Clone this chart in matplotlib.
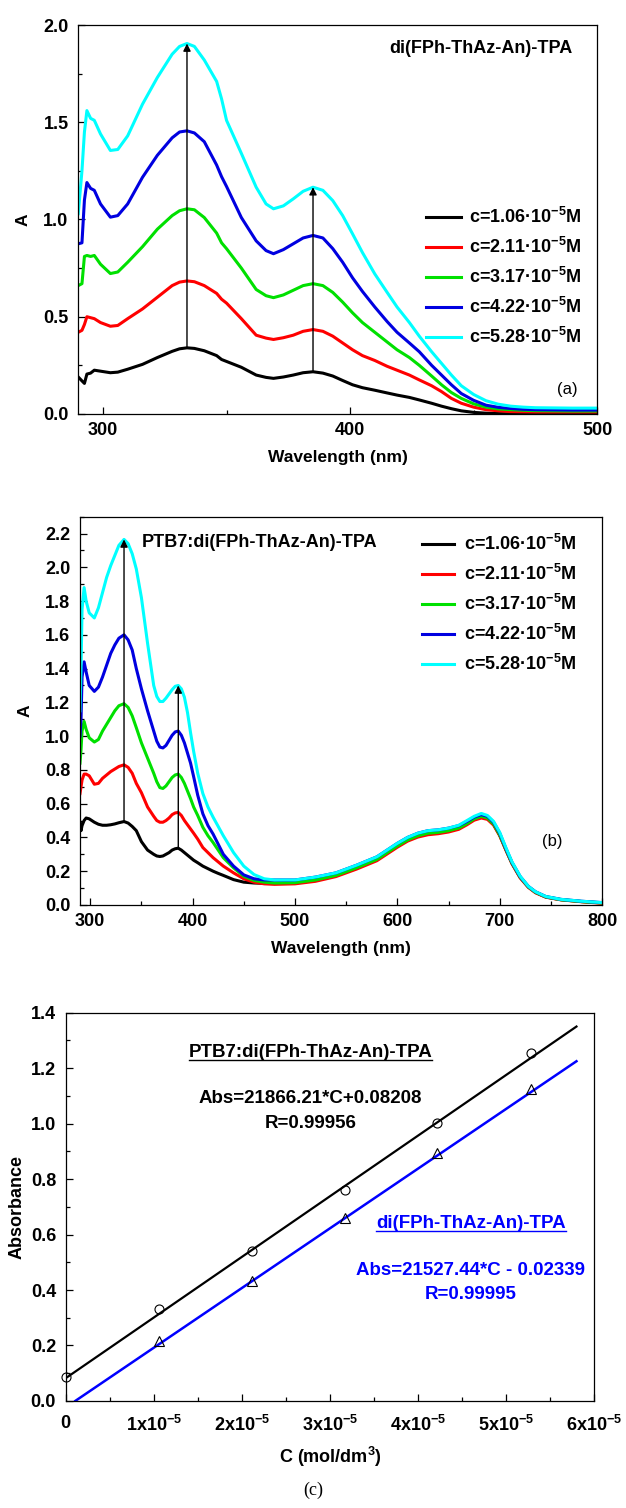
import matplotlib
matplotlib.use("Agg")
import matplotlib.pyplot as plt
from matplotlib.ticker import MultipleLocator, FixedLocator, FixedFormatter, FormatStrFormatter
from matplotlib.lines import Line2D
import numpy as np

# ---------------------------------------------------------------- data
conc_labels = ["1.06", "2.11", "3.17", "4.22", "5.28"]
colors = ["#000000", "#FF0000", "#00E000", "#0000E0", "#00FFFF"]

# (a) di(FPh-ThAz-An)-TPA in solution
wl_a = [290, 291.5, 292.5, 293.5, 295, 296.5, 299, 303, 306, 310,
        316, 322, 328, 331, 334, 337, 341, 346, 348, 350,
        356, 362, 366, 369, 373, 377, 381, 385, 389, 393,
        397, 401, 405, 410, 415, 419, 424, 428, 433, 437,
        441, 445, 450, 455, 460, 465, 470, 475, 490, 500]
a_c1 = [0.19, 0.17, 0.157, 0.205, 0.21, 0.225, 0.22, 0.212, 0.215, 0.23,
        0.255, 0.29, 0.322, 0.335, 0.34, 0.337, 0.325, 0.30, 0.28, 0.27,
        0.24, 0.20, 0.188, 0.183, 0.19, 0.20, 0.212, 0.217, 0.21, 0.195,
        0.172, 0.15, 0.135, 0.122, 0.108, 0.097, 0.085, 0.072, 0.055, 0.04,
        0.027, 0.016, 0.008, 0.004, 0.002, 0.001, 0.0, 0.0, 0.0, 0.0]
a_c2 = [0.42, 0.43, 0.46, 0.50, 0.495, 0.49, 0.47, 0.451, 0.455, 0.49,
        0.54, 0.60, 0.66, 0.678, 0.684, 0.68, 0.66, 0.62, 0.59, 0.57,
        0.49, 0.405, 0.39, 0.383, 0.392, 0.405, 0.425, 0.434, 0.425, 0.40,
        0.365, 0.33, 0.30, 0.275, 0.245, 0.225, 0.20, 0.175, 0.145, 0.115,
        0.08, 0.055, 0.035, 0.022, 0.016, 0.012, 0.011, 0.01, 0.01, 0.01]
a_c3 = [0.66, 0.67, 0.81, 0.815, 0.81, 0.815, 0.77, 0.722, 0.73, 0.78,
        0.86, 0.95, 1.02, 1.045, 1.055, 1.05, 1.01, 0.93, 0.88, 0.85,
        0.75, 0.64, 0.608, 0.598, 0.612, 0.636, 0.66, 0.67, 0.66, 0.625,
        0.575, 0.52, 0.47, 0.42, 0.37, 0.33, 0.29, 0.25, 0.195, 0.15,
        0.11, 0.08, 0.052, 0.035, 0.026, 0.022, 0.019, 0.017, 0.015, 0.015]
a_c4 = [0.875, 0.88, 1.10, 1.19, 1.16, 1.15, 1.08, 1.012, 1.02, 1.08,
        1.217, 1.33, 1.42, 1.45, 1.456, 1.445, 1.40, 1.28, 1.22, 1.17,
        1.01, 0.89, 0.84, 0.824, 0.845, 0.875, 0.905, 0.918, 0.905, 0.85,
        0.78, 0.70, 0.63, 0.55, 0.475, 0.42, 0.365, 0.32, 0.25, 0.20,
        0.15, 0.105, 0.07, 0.045, 0.034, 0.028, 0.024, 0.022, 0.02, 0.02]
a_c5 = [1.03, 1.25, 1.45, 1.56, 1.52, 1.51, 1.44, 1.355, 1.36, 1.43,
        1.593, 1.73, 1.85, 1.89, 1.905, 1.89, 1.82, 1.71, 1.62, 1.51,
        1.34, 1.166, 1.08, 1.055, 1.07, 1.106, 1.145, 1.166, 1.15, 1.097,
        1.02, 0.926, 0.83, 0.72, 0.625, 0.55, 0.47, 0.40, 0.32, 0.26,
        0.2, 0.145, 0.1, 0.068, 0.05, 0.04, 0.035, 0.032, 0.03, 0.03]

# (b) PTB7:di(FPh-ThAz-An)-TPA blend
wl_b = [290, 291, 292, 294, 296, 299, 304, 308, 312, 316,
        320, 324, 328, 333, 337, 341, 345, 350, 356, 362,
        365, 368, 371, 374, 377, 380, 383, 386, 389, 392,
        395, 398, 401, 405, 410, 415, 420, 425, 430, 440,
        450, 460, 470, 480, 500, 520, 540, 560, 580, 600,
        610, 620, 630, 640, 650, 660, 668, 675, 682, 688,
        694, 700, 706, 712, 720, 728, 735, 745, 760, 780,
        800]
b_c1 = [0.49, 0.44, 0.47, 0.50, 0.515, 0.51, 0.49, 0.478, 0.472, 0.472,
        0.475, 0.48, 0.487, 0.494, 0.485, 0.465, 0.44, 0.375, 0.325, 0.30,
        0.29, 0.287, 0.29, 0.30, 0.31, 0.325, 0.333, 0.336, 0.325, 0.31,
        0.295, 0.28, 0.265, 0.25, 0.23, 0.215, 0.20, 0.187, 0.175, 0.15,
        0.135, 0.13, 0.128, 0.13, 0.135, 0.15, 0.178, 0.222, 0.272, 0.352,
        0.386, 0.41, 0.424, 0.432, 0.442, 0.457, 0.483, 0.508, 0.522, 0.512,
        0.478, 0.413, 0.328, 0.246, 0.163, 0.106, 0.074, 0.047, 0.031, 0.02,
        0.012]
b_c2 = [0.66, 0.70, 0.74, 0.775, 0.775, 0.765, 0.715, 0.72, 0.75, 0.77,
        0.79, 0.805, 0.82, 0.83, 0.815, 0.78, 0.72, 0.665, 0.58, 0.525,
        0.50, 0.49, 0.49, 0.50, 0.515, 0.535, 0.545, 0.548, 0.53, 0.50,
        0.475, 0.45, 0.425, 0.39, 0.34, 0.31, 0.28, 0.255, 0.23, 0.19,
        0.155, 0.135, 0.125, 0.122, 0.125, 0.14, 0.168, 0.212, 0.262, 0.342,
        0.378, 0.402, 0.416, 0.422, 0.432, 0.448, 0.475, 0.502, 0.515, 0.507,
        0.473, 0.41, 0.325, 0.244, 0.16, 0.104, 0.072, 0.046, 0.03, 0.019,
        0.01]
b_c3 = [0.84, 0.92, 1.03, 1.087, 1.04, 0.99, 0.965, 0.98, 1.03, 1.07,
        1.11, 1.15, 1.18, 1.192, 1.17, 1.12, 1.05, 0.96, 0.87, 0.78,
        0.73, 0.695, 0.69, 0.705, 0.73, 0.755, 0.77, 0.775, 0.755, 0.72,
        0.675, 0.63, 0.58, 0.53, 0.46, 0.41, 0.37, 0.325, 0.28, 0.22,
        0.17, 0.145, 0.135, 0.13, 0.132, 0.148, 0.175, 0.22, 0.27, 0.35,
        0.385, 0.41, 0.425, 0.43, 0.44, 0.456, 0.482, 0.51, 0.525, 0.515,
        0.48, 0.415, 0.33, 0.248, 0.165, 0.107, 0.075, 0.048, 0.031, 0.02,
        0.012]
b_c4 = [1.00, 1.10, 1.35, 1.44, 1.38, 1.30, 1.265, 1.29, 1.35, 1.42,
        1.49, 1.54, 1.58, 1.60, 1.57, 1.51, 1.40, 1.28, 1.15, 1.03,
        0.97, 0.935, 0.93, 0.945, 0.975, 1.005, 1.025, 1.03, 1.005, 0.96,
        0.90, 0.84, 0.76, 0.65, 0.54, 0.47, 0.42, 0.36, 0.30, 0.23,
        0.178, 0.155, 0.148, 0.148, 0.148, 0.165, 0.19, 0.235, 0.285, 0.365,
        0.40, 0.425, 0.44, 0.445, 0.455, 0.47, 0.495, 0.52, 0.535, 0.525,
        0.49, 0.425, 0.335, 0.252, 0.168, 0.11, 0.078, 0.05, 0.033, 0.022,
        0.014]
b_c5 = [1.15, 1.40, 1.75, 1.88, 1.80, 1.73, 1.70, 1.76, 1.85, 1.94,
        2.01, 2.07, 2.13, 2.165, 2.14, 2.08, 1.99, 1.82, 1.55, 1.30,
        1.235, 1.205, 1.205, 1.225, 1.25, 1.275, 1.295, 1.30, 1.28, 1.23,
        1.14, 1.02, 0.91, 0.78, 0.66, 0.58, 0.52, 0.465, 0.41, 0.31,
        0.23, 0.18, 0.155, 0.148, 0.148, 0.165, 0.19, 0.235, 0.285, 0.365,
        0.40, 0.425, 0.44, 0.445, 0.455, 0.472, 0.50, 0.525, 0.542, 0.53,
        0.495, 0.43, 0.34, 0.255, 0.17, 0.11, 0.078, 0.05, 0.033, 0.022,
        0.014]

# peak wavelengths marked with arrows (lowest -> highest concentration)
peaks_a = [334, 385]
peaks_b = [333, 386]

# (c) calibration
conc = [0.0, 1.06e-5, 2.11e-5, 3.17e-5, 4.22e-5, 5.28e-5]
abs_blend = [0.088, 0.331, 0.541, 0.759, 1.002, 1.255]
abs_pure = [0.217, 0.433, 0.661, 0.894, 1.125]
fit_blend = (21866.21, 0.08208)
fit_pure = (21527.44, -0.02339)
fit_c_max = 5.8e-5

# ---------------------------------------------------------------- style
plt.rcParams.update({
    "font.family": "Liberation Sans",
    "font.weight": "bold",
    "axes.labelweight": "bold",
    "font.size": 12,
    "mathtext.fontset": "custom",
    "mathtext.rm": "Liberation Sans:bold",
    "mathtext.it": "Liberation Sans:bold:italic",
    "mathtext.bf": "Liberation Sans:bold",
    "axes.linewidth": 0.9,
    "xtick.direction": "in",
    "ytick.direction": "in",
})


def style_ax(ax):
    ax.tick_params(which="major", length=5, width=0.9, labelsize=13, pad=6)
    ax.tick_params(which="minor", length=3, width=0.9)
    ax.tick_params(axis="y", pad=7)


def add_arrows(ax, wl, lo, hi, peaks):
    for p in peaks:
        i = wl.index(p)
        ax.annotate("", xy=(wl[i], hi[i]), xytext=(wl[i], lo[i]),
                    arrowprops=dict(arrowstyle="-|>", color="k", lw=1.0,
                                    mutation_scale=11, shrinkA=0, shrinkB=0))


fig = plt.figure(figsize=(6.26, 15.08), dpi=100)

# ── (a) ────────────────────────────────────────────────────────────────
ax_a = fig.add_axes([0.125, 0.7255, 0.829, 0.2579])
series_a = [a_c1, a_c2, a_c3, a_c4, a_c5]
for ys, col, lab in zip(series_a, colors, conc_labels):
    ax_a.plot(wl_a, ys, color=col, lw=2.2, solid_joinstyle="round",
              label=f"c={lab}·10$^{{-5}}$M")
add_arrows(ax_a, wl_a, a_c1, a_c5, peaks_a)
ax_a.set_xlim(290, 500)
ax_a.set_ylim(0, 2.0)
ax_a.xaxis.set_major_locator(MultipleLocator(100))
ax_a.xaxis.set_minor_locator(MultipleLocator(50))
ax_a.yaxis.set_major_locator(MultipleLocator(0.5))
ax_a.yaxis.set_minor_locator(MultipleLocator(0.25))
ax_a.yaxis.set_major_formatter(FormatStrFormatter("%.1f"))
style_ax(ax_a)
ax_a.set_xlabel("Wavelength (nm)", fontsize=12.5, labelpad=8)
ax_a.set_ylabel("A", fontsize=12.5, labelpad=9)
ax_a.text(0.60, 0.94, "di(FPh-ThAz-An)-TPA", transform=ax_a.transAxes,
          fontsize=13, ha="left", va="center")
ax_a.text(0.942, 0.062, "(a)", transform=ax_a.transAxes, fontsize=12,
          fontweight="normal", ha="center", va="center")
ax_a.legend(loc="upper left", bbox_to_anchor=(0.67, 0.532), frameon=False,
            fontsize=13, handlelength=1.95, handletextpad=0.45,
            labelspacing=0.55, borderaxespad=0, borderpad=0)

# ── (b) ────────────────────────────────────────────────────────────────
ax_b = fig.add_axes([0.1278, 0.3999, 0.834, 0.2575])
series_b = [b_c1, b_c2, b_c3, b_c4, b_c5]
for ys, col, lab in zip(series_b, colors, conc_labels):
    ax_b.plot(wl_b, ys, color=col, lw=2.2, solid_joinstyle="round",
              label=f"c={lab}·10$^{{-5}}$M")
add_arrows(ax_b, wl_b, b_c1, b_c5, peaks_b)
ax_b.set_xlim(290, 800)
ax_b.set_ylim(0, 2.3)
ax_b.xaxis.set_major_locator(MultipleLocator(100))
ax_b.xaxis.set_minor_locator(MultipleLocator(50))
ax_b.yaxis.set_major_locator(MultipleLocator(0.2))
ax_b.yaxis.set_minor_locator(MultipleLocator(0.1))
ax_b.yaxis.set_major_formatter(FormatStrFormatter("%.1f"))
style_ax(ax_b)
ax_b.set_xlabel("Wavelength (nm)", fontsize=12.5, labelpad=8)
ax_b.set_ylabel("A", fontsize=12.5, labelpad=9)
ax_b.text(0.118, 0.933, "PTB7:di(FPh-ThAz-An)-TPA", transform=ax_b.transAxes,
          fontsize=13, ha="left", va="center")
ax_b.text(0.904, 0.163, "(b)", transform=ax_b.transAxes, fontsize=12,
          fontweight="normal", ha="center", va="center")
ax_b.legend(loc="upper left", bbox_to_anchor=(0.655, 0.955), frameon=False,
            fontsize=13, handlelength=1.8, handletextpad=0.55,
            labelspacing=0.55, borderaxespad=0, borderpad=0)

# ── (c) ────────────────────────────────────────────────────────────────
ax_c = fig.add_axes([0.105, 0.0710, 0.844, 0.2574])
c_line = np.array([0.0, fit_c_max])
ax_c.plot(c_line, fit_blend[0] * c_line + fit_blend[1], color="k", lw=1.6)
c0_pure = -fit_pure[1] / fit_pure[0]
c_line2 = np.array([c0_pure, fit_c_max])
ax_c.plot(c_line2, fit_pure[0] * c_line2 + fit_pure[1], color="#0000FF", lw=1.8)
ax_c.plot(conc, abs_blend, "o", ms=6.5, mfc="none", mec="k", mew=0.8, clip_on=False)
ax_c.plot(conc[1:], abs_pure, "^", ms=6.5, mfc="none", mec="k", mew=0.8)
ax_c.set_xlim(0, 6e-5)
ax_c.set_ylim(0, 1.4)
xt = [0, 1e-5, 2e-5, 3e-5, 4e-5, 5e-5, 6e-5]
ax_c.xaxis.set_major_locator(FixedLocator(xt))
ax_c.xaxis.set_major_formatter(FixedFormatter(
    ["0"] + [f"{k}x10$^{{-5}}$" for k in range(1, 7)]))
ax_c.xaxis.set_minor_locator(MultipleLocator(0.5e-5))
ax_c.yaxis.set_major_locator(MultipleLocator(0.2))
ax_c.yaxis.set_minor_locator(MultipleLocator(0.1))
ax_c.yaxis.set_major_formatter(FormatStrFormatter("%.1f"))
style_ax(ax_c)
ax_c.tick_params(axis="x", pad=10)
ax_c.set_xlabel("C (mol/dm$^3$)", fontsize=13, labelpad=7)
ax_c.set_ylabel("Absorbance", fontsize=13, labelpad=4)

t_blend = ax_c.text(2.78e-5, 1.257, "PTB7:di(FPh-ThAz-An)-TPA", fontsize=13.5,
                    ha="center", va="center", color="k")
ax_c.text(2.78e-5, 1.09, "Abs=21866.21*C+0.08208", fontsize=13.5,
          ha="center", va="center", color="k")
ax_c.text(2.78e-5, 1.002, "R=0.99956", fontsize=13.5, ha="center", va="center",
          color="k")
t_pure = ax_c.text(4.6e-5, 0.639, "di(FPh-ThAz-An)-TPA", fontsize=13.5,
                   ha="center", va="center", color="#0000FF")
ax_c.text(4.6e-5, 0.471, "Abs=21527.44*C - 0.02339", fontsize=13.5,
          ha="center", va="center", color="#0000FF")
ax_c.text(4.6e-5, 0.384, "R=0.99995", fontsize=13.5, ha="center", va="center",
          color="#0000FF")

fig.text(0.5, 0.012, "(c)", family="Liberation Serif", fontweight="normal",
         fontsize=13, ha="center", va="center")

# underline the two compound names in (c)
fig.canvas.draw()
renderer = fig.canvas.get_renderer()
inv = fig.transFigure.inverted()
for t in [t_blend, t_pure]:
    bb = t.get_window_extent(renderer=renderer)
    (x0, y0), (x1, _) = inv.transform([[bb.x0, bb.y0 + 1], [bb.x1, bb.y0]])
    fig.add_artist(Line2D([x0, x1], [y0, y0], transform=fig.transFigure,
                          color=t.get_color(), lw=1.0))

fig.savefig("out.png", dpi=100)
